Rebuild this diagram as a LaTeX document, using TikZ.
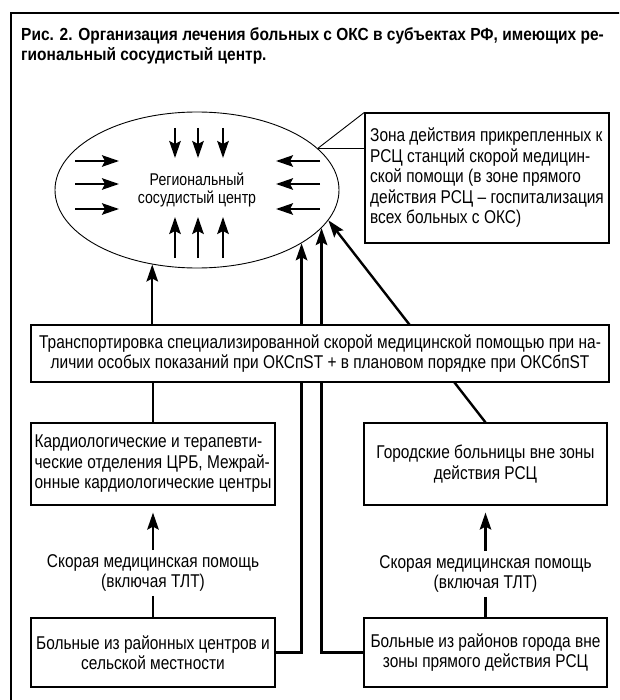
\documentclass[tikz,border=0pt]{standalone}
\usepackage{fontspec}
\setmainfont{Liberation Sans}[FakeStretch=0.835]
\newfontfamily\titlefont{Liberation Sans}[FakeStretch=0.885]
\newfontfamily\ellfont{Liberation Sans}[FakeStretch=0.83]
\usetikzlibrary{shapes.geometric,arrows.meta,backgrounds}
\begin{document}
\begin{tikzpicture}[x=1pt,y=-1pt,
  txt/.style={font=\fontsize{18.5}{20.5}\selectfont},
  box/.style={draw, line width=1.2pt, fill=white, inner sep=3pt, txt},
  ell/.style={ellipse, draw, line width=0.9pt, minimum width=284pt, minimum height=156pt, inner sep=0pt, align=center, font=\ellfont\fontsize{17}{18}\selectfont},
  tip/.style={-{Stealth[length=17pt,width=11.5pt,inset=3pt]}},
  conn/.style={line width=2.4pt, tip},
  plain/.style={line width=2.4pt},
  inarr/.style={line width=2.2pt, tip},
  callout/.style={line width=0.9pt},
  lab/.style={txt, align=center, inner sep=4pt}
]
\useasboundingbox (0,0) rectangle (619,700);
\clip (0,0) rectangle (619,700);
% frame
\draw[line width=2.5pt] (11,705) -- (11,13) -- (625,13);
% title
\node[anchor=north west, align=left, inner sep=0pt, font=\titlefont\bfseries\fontsize{17.5}{20}\selectfont] (title) at (21,27)
  {Рис. 2. Организация лечения больных с ОКС в субъектах РФ, имеющих ре-\\гиональный сосудистый центр.};
% nodes
\node[ell] (rsc) at (197,190) {Региональный\\сосудистый центр};
\node[box, minimum width=244pt, minimum height=130pt, align=left] (zone) at (487,178)
  {Зона действия прикрепленных к\\РСЦ станций скорой медицин-\\ской помощи (в зоне прямого\\действия РСЦ – госпитализация\\всех больных с ОКС)};
\node[box, minimum width=578pt, minimum height=57pt, align=center] (trans) at (320,353.5)
  {Транспортировка специализированной скорой медицинской помощью при на-\\личии особых показаний при ОКСпST + в плановом порядке при ОКСбпST};
\node[box, minimum width=244pt, minimum height=82pt, align=left] (kard) at (153,464)
  {Кардиологические и терапевти-\\ческие отделения ЦРБ, Межрай-\\онные кардиологические центры};
\node[box, minimum width=243pt, minimum height=82pt, align=center] (gor) at (485.5,464)
  {Городские больницы вне зоны\\действия РСЦ};
\node[box, minimum width=244pt, minimum height=69pt, align=center] (boln1) at (153,652.5)
  {Больные из районных центров и\\сельской местности};
\node[box, minimum width=243pt, minimum height=69pt, align=center] (boln2) at (485.5,652.5)
  {Больные из районов города вне\\зоны прямого действия РСЦ};
\node[lab] (lab1) at (153,573) {Скорая медицинская помощь\\(включая ТЛТ)};
\node[lab] (lab2) at (485.5,574) {Скорая медицинская помощь\\(включая ТЛТ)};
% inner arrows of the ellipse
\foreach \xx in {175,198,223} {
  \draw[inarr] (\xx,128) -- (\xx,158);
  \draw[inarr] (\xx,258) -- (\xx,217);
}
\foreach \yy in {161,184,209} {
  \draw[inarr] (75,\yy) -- (119,\yy);
  \draw[inarr] (320,\yy) -- (276,\yy);
}
% callout pointer
\draw[callout] (rsc.19.3) -- (zone.north west);
\draw[callout] (rsc.19.3) -- (rsc.19.3 -| zone.west);
% connectors
\begin{scope}[on background layer]
  \draw[conn] (rsc.239.3 |- trans.north) -- (rsc.239.3);
  \draw[plain] (kard.north) -- (kard.north |- trans.south);
  \draw[conn] (boln1.east) -| (rsc.333.2);
  \draw[conn] (boln2.west) -| (rsc.343.6);
  \draw[conn] (gor.north) -- (rsc.347);
\end{scope}
\draw[conn, shorten >=7pt] (lab1.north) -- (kard.south);
\draw[plain] (lab1.south) -- (boln1.north);
\draw[conn, shorten >=7pt] (lab2.north) -- (gor.south);
\draw[plain] (lab2.south) -- (boln2.north);
\end{tikzpicture}
\end{document}
